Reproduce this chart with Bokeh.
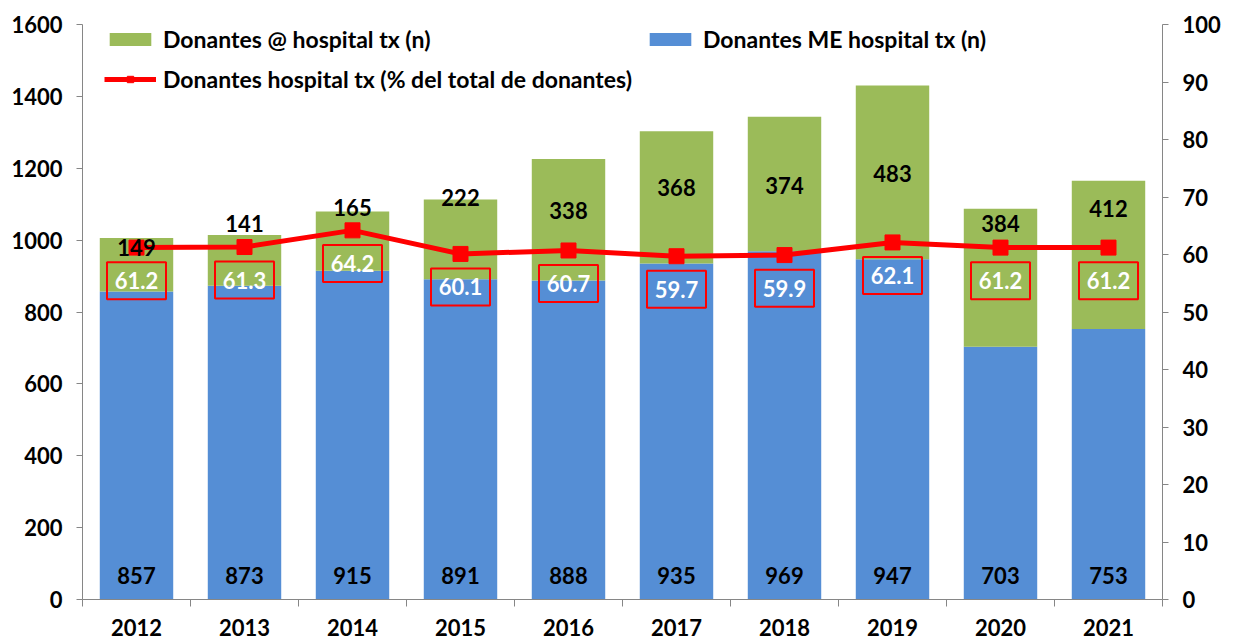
from bokeh.plotting import figure
from bokeh.models import Range1d, LinearAxis, FixedTicker, Legend, LegendItem, ColumnDataSource
from bokeh.embed import file_html
from bokeh.resources import INLINE
from bokeh.core.properties import value

# ---- data ----
years = ["2012", "2013", "2014", "2015", "2016", "2017", "2018", "2019", "2020", "2021"]
donantes_me = [857, 873, 915, 891, 888, 935, 969, 947, 703, 753]
donantes_at = [149, 141, 165, 222, 338, 368, 374, 483, 384, 412]
pct_hospital = [61.2, 61.3, 64.2, 60.1, 60.7, 59.7, 59.9, 62.1, 61.2, 61.2]
left_ticks = [0, 200, 400, 600, 800, 1000, 1200, 1400, 1600]
right_ticks = [0, 10, 20, 30, 40, 50, 60, 70, 80, 90, 100]

# annotation anchor heights for the "@" labels (left-axis units), as placed in the original
at_label_y = [980, 1045, 1090, 1120, 1082, 1146, 1152, 1185, 1046, 1088]

FONT = "Lato"
GREEN = "#9BBB59"
BLUE = "#558ED5"
RED = "#FF0000"
AXIS = "#868686"
TICK_SIZE = "22px"

xs = list(range(len(years)))
src = ColumnDataSource(dict(
    x=xs, me=donantes_me, at=donantes_at, pct=pct_hospital,
    at_y=at_label_y,
    me_txt=[str(v) for v in donantes_me],
    at_txt=[str(v) for v in donantes_at],
    pct_txt=["%.1f" % v for v in pct_hospital],
    pct_box=[v - 5.75 for v in pct_hospital],
))

p = figure(width=1234, height=642, output_backend="svg", toolbar_location=None,
           x_range=Range1d(-0.5, len(years) - 0.5), y_range=Range1d(0, 1600),
           min_border_left=82, min_border_right=72, min_border_top=24, min_border_bottom=43)
p.extra_y_ranges = {"pct": Range1d(0, 100)}
p.xgrid.visible = False
p.ygrid.visible = False
p.outline_line_color = None
p.background_fill_color = "white"

bars = p.vbar_stack(["me", "at"], x="x", width=0.68, color=[BLUE, GREEN], source=src, line_color=None)

line_r = p.line("x", "pct", y_range_name="pct", source=src, line_color=RED, line_width=5)
sq_r = p.scatter("x", "pct", y_range_name="pct", source=src, marker="square", size=15,
                 fill_color=RED, line_color=RED)

# labels
common = dict(text_align="center", text_baseline="middle", text_font=value(FONT),
              text_font_style="bold", text_font_size="22px")
p.text("x", "at_y", text="at_txt", source=src, text_color="black", **common)
p.text("x", 0, text="me_txt", source=src, text_color="black", y_offset=-24, **common)
p.rect("x", "pct_box", width=59, height=37, width_units="screen", height_units="screen",
       source=src, y_range_name="pct", fill_color=None, line_color=RED, line_width=2)
p.text("x", "pct_box", text="pct_txt", source=src, y_range_name="pct", text_color="white", **common)

# axes
for ax in [p.xaxis[0], p.yaxis[0]]:
    ax.axis_line_color = AXIS
    ax.major_label_text_font = FONT
    ax.major_label_text_font_style = "bold"
    ax.major_label_text_font_size = TICK_SIZE
    ax.major_label_text_color = "black"

p.xaxis.ticker = FixedTicker(ticks=xs, minor_ticks=[i - 0.5 for i in range(len(years) + 1)])
p.xaxis.major_label_overrides = {i: y for i, y in enumerate(years)}
p.xaxis.major_tick_line_color = None
p.xaxis.minor_tick_line_color = AXIS
p.xaxis.minor_tick_out = 7
p.xaxis.minor_tick_in = 0
p.xaxis.major_label_standoff = 12

p.yaxis.ticker = FixedTicker(ticks=left_ticks)
p.yaxis.major_tick_line_color = AXIS
p.yaxis.major_tick_out = 6
p.yaxis.major_tick_in = 0
p.yaxis.minor_tick_line_color = None
p.yaxis.major_label_standoff = 14

rax = LinearAxis(y_range_name="pct", ticker=FixedTicker(ticks=right_ticks))
rax.axis_line_color = AXIS
rax.major_tick_line_color = AXIS
rax.major_tick_out = 6
rax.major_tick_in = 0
rax.minor_tick_line_color = None
rax.major_label_text_font = FONT
rax.major_label_text_font_style = "bold"
rax.major_label_text_font_size = TICK_SIZE
rax.major_label_text_color = "black"
rax.major_label_standoff = 14
p.add_layout(rax, "right")

legend = Legend(items=[
    LegendItem(label="Donantes @ hospital tx (n)", renderers=[bars[1]]),
    LegendItem(label="Donantes hospital tx (% del total de donantes)", renderers=[line_r, sq_r]),
    LegendItem(label="Donantes ME hospital tx (n)", renderers=[bars[0]]),
], ncols=2, location=(22, 506), orientation="vertical")
legend.label_text_font = FONT
legend.label_text_font_style = "bold"
legend.label_text_font_size = "23px"
legend.label_text_color = "black"
legend.glyph_width = 52
legend.glyph_height = 16
legend.label_standoff = 7
legend.spacing = 12
legend.padding = 0
legend.margin = 0
legend.border_line_color = None
legend.background_fill_alpha = 0
p.add_layout(legend)

open("out.html", "w").write(file_html(p, INLINE))
